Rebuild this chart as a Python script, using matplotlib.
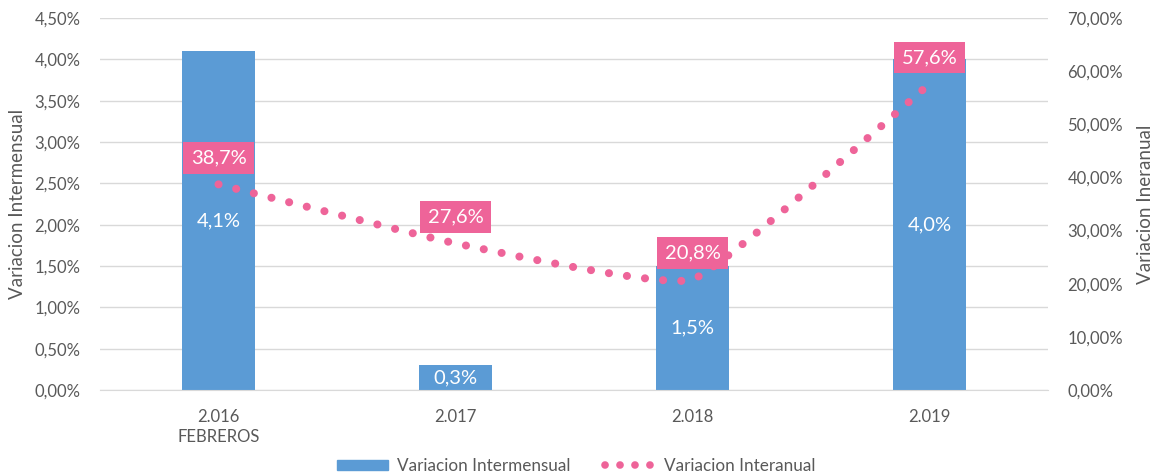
import numpy as np
import matplotlib.pyplot as plt
from matplotlib.ticker import FuncFormatter, MultipleLocator
from matplotlib.lines import Line2D
from matplotlib.patches import Patch

plt.rcParams['font.family'] = ['Lato', 'DejaVu Sans']

# data
categorias = ['2.016\nFEBREROS', '2.017', '2.018', '2.019']
intermensual = [4.1, 0.3, 1.5, 4.0]      # % (left axis)
interanual = [38.7, 27.6, 20.8, 57.6]    # % (right axis)

azul = '#5B9BD5'
rosa = '#EE6499'
gris = '#595959'

fig = plt.figure(figsize=(11.53, 4.74), dpi=100)
ax = fig.add_axes([100 / 1153, 1 - 390 / 474, 948 / 1153, 372 / 474])
ax2 = ax.twinx()

x = np.arange(len(categorias))
ax.bar(x, intermensual, width=0.31, color=azul, zorder=2)
for xi, v in zip(x, intermensual):
    ax.text(xi, v / 2, f'{v:.1f}%'.replace('.', ','), ha='center', va='center',
            color='white', fontsize=14.5, zorder=5)

# Excel-like "smoothed" line: bezier with short control arms
y = np.array(interanual, dtype=float)
f = 0.06
xs, ys = [], []
for i in range(len(x) - 1):
    p0 = np.array([x[max(i - 1, 0)], y[max(i - 1, 0)]])
    p1 = np.array([x[i], y[i]])
    p2 = np.array([x[i + 1], y[i + 1]])
    p3 = np.array([x[min(i + 2, len(x) - 1)], y[min(i + 2, len(x) - 1)]])
    c1 = p1 + (p2 - p0) * f
    c2 = p2 - (p3 - p1) * f
    t = np.linspace(0, 1, 80)[:, None]
    seg = (1 - t) ** 3 * p1 + 3 * (1 - t) ** 2 * t * c1 + 3 * (1 - t) * t ** 2 * c2 + t ** 3 * p2
    xs.extend(seg[:, 0]); ys.extend(seg[:, 1])
ax2.plot(xs, ys, color=rosa, lw=5.8, linestyle=(0, (0.01, 2.25)),
         dash_capstyle='round', zorder=3)

for xi, v in zip(x, interanual):
    ax2.annotate(f'{v:.1f}%'.replace('.', ','), (xi, v), xytext=(0, 19),
                 textcoords='offset points', ha='center', va='center',
                 color='white', fontsize=14.5, zorder=6,
                 bbox=dict(boxstyle='square,pad=0.36', fc=rosa, ec='none'))

ax.set_xlim(-0.5, 3.5)
ax.set_ylim(0, 4.5)
ax2.set_ylim(0, 70)
ax.yaxis.set_major_locator(MultipleLocator(0.5))
ax2.yaxis.set_major_locator(MultipleLocator(10))
ax.yaxis.set_major_formatter(FuncFormatter(lambda v, p: f'{v:.2f}%'.replace('.', ',')))
ax2.yaxis.set_major_formatter(FuncFormatter(lambda v, p: f'{v:.2f}%'.replace('.', ',')))
ax.set_xticks(x)
ax.set_xticklabels(categorias, linespacing=1.3)

ax.grid(axis='y', color='#D9D9D9', lw=1, zorder=0)
ax.set_axisbelow(True)
for a in (ax, ax2):
    for s in a.spines.values():
        s.set_visible(False)
    a.tick_params(length=0, colors=gris, labelsize=12)
ax.spines['bottom'].set_visible(True)
ax.spines['bottom'].set_color('#D9D9D9')
ax.tick_params(axis='y', pad=14)
ax.tick_params(axis='x', pad=14)
ax2.tick_params(axis='y', pad=14)

ax.set_ylabel('Variacion Intermensual', color=gris, fontsize=13.5, labelpad=6)
ax2.set_ylabel('Variacion Ineranual', color=gris, fontsize=13.5, labelpad=10)

handles = [Patch(color=azul),
           Line2D([0], [0], color=rosa, lw=5.5, linestyle=(0, (0.01, 1.95)),
                  dash_capstyle='round')]
fig.legend(handles, ['Variacion Intermensual', 'Variacion Interanual'],
           loc='center', bbox_to_anchor=(0.5, 1 - 466 / 474), ncol=2,
           frameon=False, fontsize=12.3, labelcolor=gris, handlelength=3.0,
           handleheight=0.6, columnspacing=2.0, handletextpad=0.5)

fig.savefig('out.png', dpi=100)
